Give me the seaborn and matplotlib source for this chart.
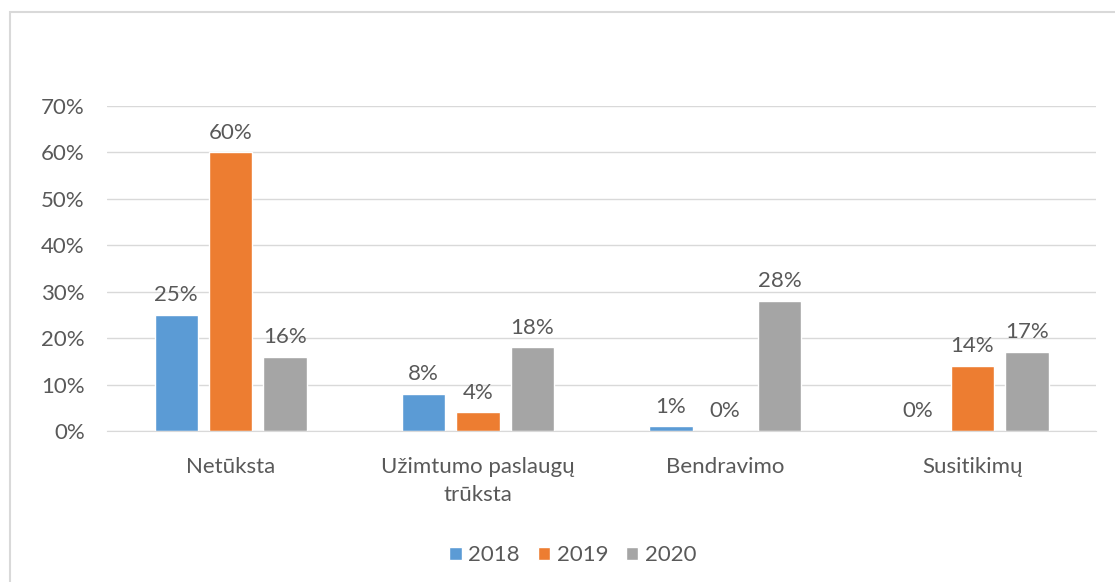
import numpy as np
import pandas as pd
import matplotlib
matplotlib.use("Agg")
import matplotlib.pyplot as plt
import seaborn as sns
from matplotlib.patches import Rectangle

categories = ["Netūksta", "Užimtumo paslaugų\ntrūksta", "Bendravimo", "Susitikimų"]
years = ["2018", "2019", "2020"]
v2018 = [25, 8, 1, 0]
v2019 = [60, 4, 0, 14]
v2020 = [16, 18, 28, 17]
colors = ["#5B9BD5", "#ED7D31", "#A5A5A5"]

data = pd.DataFrame({
    "kategorija": categories * 3,
    "metai": [y for y in years for _ in categories],
    "reiksme": v2018 + v2019 + v2020,
})

sns.set_style("white")
plt.rcParams["font.family"] = ["Lato", "DejaVu Sans"]
txt = "#595959"
fs = 16

fig = plt.figure(figsize=(11.15, 5.82), dpi=100)
ax = fig.add_axes([0.096, 0.2595, 0.887, 0.5585])

sns.barplot(data=data, x="kategorija", y="reiksme", hue="metai",
            palette=colors, width=0.66, gap=0.2, ax=ax, saturation=1)

for c in ax.containers:
    ax.bar_label(c, labels=[f"{v:.0f}%" for v in c.datavalues],
                 padding=7, fontsize=fs, color=txt)

ax.set_ylim(0, 70)
ax.set_yticks(range(0, 71, 10))
ax.set_yticklabels([f"{t}%" for t in range(0, 71, 10)])
ax.set_xlim(-0.5, 3.5)
ax.yaxis.grid(True, color="#D9D9D9", linewidth=1)
ax.set_axisbelow(True)
for s in ["top", "right", "left"]:
    ax.spines[s].set_visible(False)
ax.spines["bottom"].set_color("#D9D9D9")
ax.tick_params(axis="both", length=0, labelsize=fs, labelcolor=txt)
ax.tick_params(axis="x", pad=19)
ax.tick_params(axis="y", pad=16)
for lab in ax.get_xticklabels():
    lab.set_linespacing(1.5)
ax.set_xlabel("")
ax.set_ylabel("")

ax.legend(loc="upper center", bbox_to_anchor=(0.471, -0.29), ncol=3,
          frameon=False, fontsize=fs, labelcolor=txt,
          handlelength=0.55, handleheight=0.55, handletextpad=0.3, columnspacing=0.8)

fig.patches.append(Rectangle((10 / 1115, -0.05), 1.2, 1 - 12 / 582 + 0.05,
                             transform=fig.transFigure, fill=False,
                             edgecolor="#D9D9D9", linewidth=1.5))

fig.savefig("out.png", dpi=100)
